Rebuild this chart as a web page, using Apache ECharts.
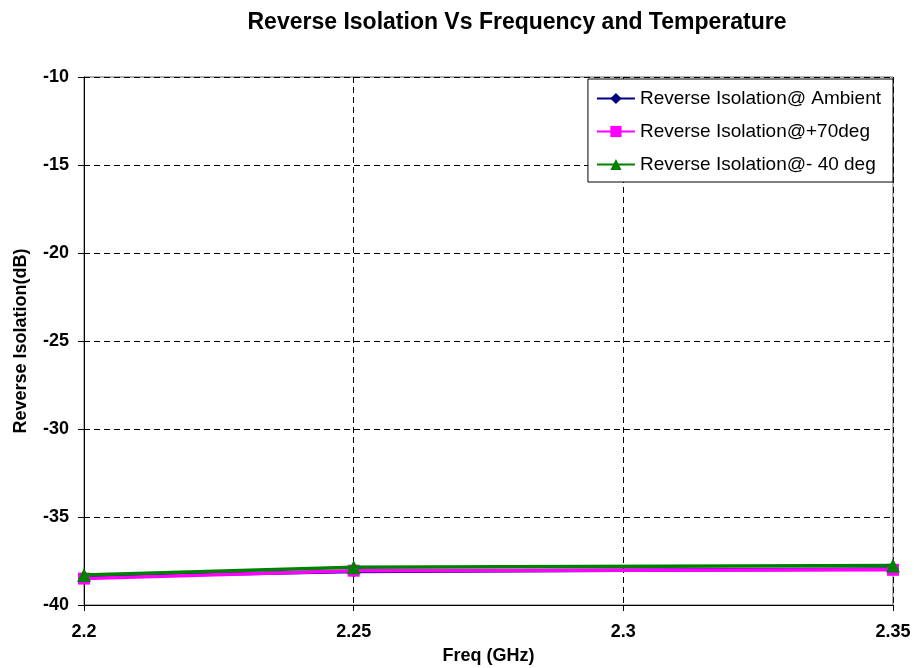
<!DOCTYPE html>
<html>
<head>
<meta charset="utf-8">
<script src="https://cdn.jsdelivr.net/npm/echarts@6/dist/echarts.min.js"></script>
<style>html,body{margin:0;padding:0;background:#fff}#c{width:914px;height:668px}</style>
</head>
<body>
<div id="c"></div>
<script>
const freqs = [2.2, 2.25, 2.35];
const ambient = [-38.4, -38.1, -37.95];
const hot70 = [-38.5, -38.05, -38.0];
const cold40 = [-38.3, -37.85, -37.75];
const seriesNames = ['Reverse Isolation@ Ambient', 'Reverse Isolation@+70deg', 'Reverse Isolation@- 40 deg'];

const font = 'Liberation Sans, Arial, sans-serif';
function pairs(v){ return freqs.map((f,i)=>[f, v[i]]); }

const chart = echarts.init(document.getElementById('c'));
chart.setOption({
  animation: false,
  backgroundColor: '#fff',
  title: {
    text: 'Reverse Isolation Vs Frequency and Temperature',
    left: 512, textAlign: 'center', top: 6,
    textStyle: {fontFamily: font, fontSize: 23, fontWeight: 'bold', color: '#000'}
  },
  legend: {
    orient: 'vertical', right: 21, top: 79,
    backgroundColor: '#fff', borderColor: '#000', borderWidth: 1,
    padding: [10, 12, 8, 8], itemGap: 14, itemWidth: 38, itemHeight: 14,
    textStyle: {fontFamily: font, fontSize: 19, color: '#000'},
    data: seriesNames
  },
  grid: {left: 84, right: 21, top: 77, bottom: 63, show: true, borderColor: '#666', borderWidth: 1,
         containLabel: false, outerBoundsMode: 'none'},
  xAxis: {
    type: 'value', min: 2.2, max: 2.35, interval: 0.05,
    name: 'Freq (GHz)', nameLocation: 'middle', nameGap: 42,
    nameTextStyle: {fontFamily: font, fontSize: 18, fontWeight: 'bold', color: '#000'},
    axisLine: {lineStyle: {color: '#000'}},
    axisTick: {show: true, length: 6, lineStyle: {color: '#000'}},
    axisLabel: {fontFamily: font, fontSize: 18, fontWeight: 'bold', color: '#000', margin: 18},
    splitLine: {show: true, lineStyle: {color: '#000', type: [6, 4], width: 1}}
  },
  yAxis: {
    type: 'value', min: -40, max: -10, interval: 5,
    name: 'Reverse Isolation(dB)', nameLocation: 'middle', nameGap: 54,
    nameTextStyle: {fontFamily: font, fontSize: 18, fontWeight: 'bold', color: '#000'},
    axisLine: {show: true, lineStyle: {color: '#000'}},
    axisTick: {show: true, length: 6, lineStyle: {color: '#000'}},
    axisLabel: {fontFamily: font, fontSize: 18, fontWeight: 'bold', color: '#000', margin: 15},
    splitLine: {show: true, lineStyle: {color: '#000', type: [6, 4], width: 1}}
  },
  series: [
    {name: seriesNames[0], type: 'line', data: pairs(ambient), symbol: 'diamond', symbolSize: 12,
     lineStyle: {color: '#000080', width: 3.5}, itemStyle: {color: '#000080'}, z: 2},
    {name: seriesNames[1], type: 'line', data: pairs(hot70), symbol: 'rect', symbolSize: 12,
     lineStyle: {color: '#ff00ff', width: 3.5}, itemStyle: {color: '#ff00ff'}, z: 3},
    {name: seriesNames[2], type: 'line', data: pairs(cold40), symbol: 'triangle', symbolSize: 14,
     lineStyle: {color: '#008000', width: 3.5}, itemStyle: {color: '#008000'}, z: 4}
  ]
});
</script>
</body>
</html>
